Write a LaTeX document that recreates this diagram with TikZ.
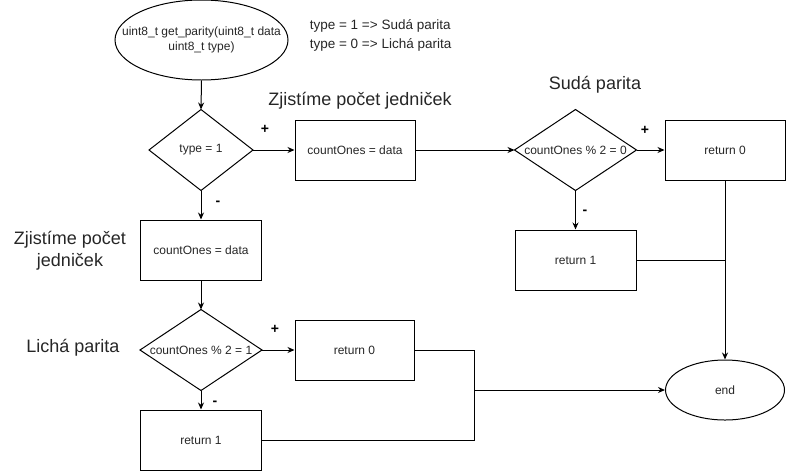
\documentclass[tikz,border=0pt]{standalone}
\usepackage{fontspec}
\setmainfont{Liberation Sans}
\usetikzlibrary{shapes.geometric,arrows.meta}
\begin{document}
\begin{tikzpicture}[x=1pt,y=-1pt,line width=1pt,
  every node/.style={font=\fontsize{12}{15}\selectfont, text=black!85},
  box/.style={draw, minimum width=#1, minimum height=60pt, inner sep=0pt},
  box/.default=120pt,
  dia/.style={minimum width=#1, minimum height=80pt, inner sep=0pt},
  big/.style={font=\fontsize{18}{22}\selectfont, align=center},
  sign/.style={font=\fontsize{14}{16}\selectfont\bfseries, text=black},
  arr/.style={-{Stealth[length=7pt,width=6pt]}}
]
\useasboundingbox (0,0) rectangle (786,472);

% start ellipse
\node[minimum width=173pt, minimum height=80pt, inner sep=0pt, align=center] (start) at (201.5,40) {uint8\_t get\_parity(uint8\_t data\\uint8\_t type)};
\draw (start.center) ellipse [x radius=86.5pt, y radius=40pt];

\node[anchor=west, align=left, font=\fontsize{13.5}{19}\selectfont] (info) at (306,35) {type = 1 => Sudá parita\\type = 0 => Lichá parita};

% nodes
\node[dia=103pt] (d1) at (201,150) {type = 1};
\node[box] (c1) at (355,150) {countOnes = data};
\node[dia=121pt] (d2) at (575.5,150) {countOnes \% 2 = 0};
\node[box] (r0a) at (725,150) {return 0};
\node[box=121pt] (r1a) at (575.5,260) {return 1};
\node[draw, ellipse, minimum width=119pt, minimum height=60pt, inner sep=0pt] (endn) at (725,390) {end};

\node[box=121pt] (c2) at (201,250) {countOnes = data};
\node[dia=121pt] (d3) at (201,350) {countOnes \% 2 = 1};
\node[box=121pt] (r1b) at (201,440) {return 1};
\node[box=119pt] (r0b) at (354.5,350) {return 0};

% diamond outlines
\foreach \d in {d1,d2,d3}
  \draw (\d.north) -- (\d.east) -- (\d.south) -- (\d.west) -- cycle;

% labels
\node[big] (l1) at (360,101) {Zjistíme počet jedniček};
\node[big] (l2) at (595,85) {Sudá parita};
\node[big] (l3) at (70,251) {Zjistíme počet\\jedniček};
\node[big] (l4) at (73,348) {Lichá parita};

\node[sign] (p1) at (265,129) {+};
\node[sign] (m1) at (218,203) {-};
\node[sign] (p2) at (645,130) {+};
\node[sign] (m2) at (585,212) {-};
\node[sign] (p3) at (275,329) {+};
\node[sign] (m3) at (215,403) {-};

% connectors
\draw[arr] (start.south) -- (d1.north);
\draw[arr] (d1.east) -- (c1.west);
\draw[arr] (c1.east) -- (d2.west);
\draw[arr] (d2.east) -- (r0a.west);
\draw[arr] (d2.south) -- (r1a.north);
\draw[arr] (r0a.south) -- (endn.north);
\draw (r1a.east) -- (r1a.east -| r0a.south);
\draw[arr] (d1.south) -- (c2.north);
\draw[arr] (c2.south) -- (d3.north);
\draw[arr] (d3.east) -- (r0b.west);
\draw[arr] (d3.south) -- (r1b.north);
\coordinate (j) at (474,390);
\draw (r0b.east) -| (j);
\draw (r1b.east) -| (j);
\draw[arr] (j) -- (endn.west);
\end{tikzpicture}
\end{document}
